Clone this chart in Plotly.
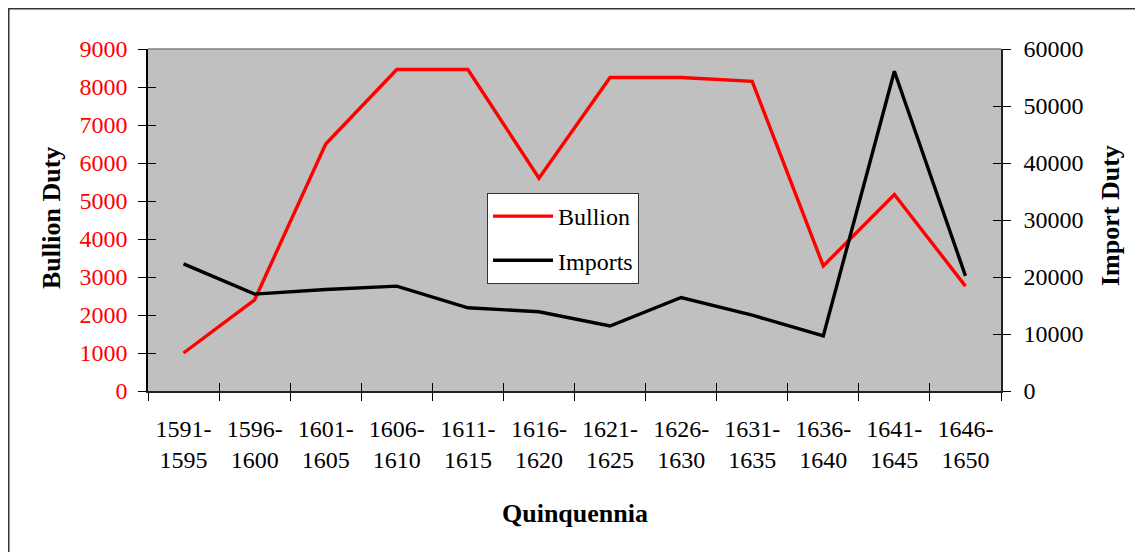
import plotly.graph_objects as go

categories = ["1591-<br>1595", "1596-<br>1600", "1601-<br>1605", "1606-<br>1610",
              "1611-<br>1615", "1616-<br>1620", "1621-<br>1625", "1626-<br>1630",
              "1631-<br>1635", "1636-<br>1640", "1641-<br>1645", "1646-<br>1650"]
bullion = [1000, 2400, 6500, 8460, 8460, 5600, 8250, 8250, 8150, 3290, 5170, 2760]
imports = [22300, 17000, 17800, 18400, 14600, 13900, 11400, 16400, 13300, 9650, 56100, 20200]

FONT = "Liberation Serif"
OFF = 8                      # default page body margin
W, H = 1143 - OFF, 552 - OFF
# target page coords of the plot area: x 148..1001, y 49..391
L, T = 148 - OFF, 49 - OFF
R, B = 1143 - 1001, 552 - 391
pw, ph = W - L - R, H - T - B


def px_x(x):  # page x -> paper
    return (x - OFF - L) / pw


def px_y(y):  # page y -> paper
    return (OFF + T + ph - y) / ph


fig = go.Figure()
fig.add_trace(go.Scatter(x=categories, y=bullion, name="Bullion", mode="lines",
                         line=dict(color="#FF0000", width=3.4), legendgroup="a"))
fig.add_trace(go.Scatter(x=categories, y=imports, name="Imports", mode="lines",
                         line=dict(color="#000000", width=3.4), yaxis="y2", legendgroup="b"))
# invisible helpers for crossing ticks
fig.add_trace(go.Scatter(x=categories, y=[None]*12, xaxis="x2", yaxis="y3",
                         showlegend=False, hoverinfo="skip"))
fig.add_trace(go.Scatter(x=categories, y=[None]*12, xaxis="x2", yaxis="y4",
                         showlegend=False, hoverinfo="skip"))

FS = 24
axfont = dict(family=FONT, size=FS, color="black")
common_x = dict(type="category", categoryorder="array", categoryarray=categories,
                range=[-0.5, 11.5], tickson="boundaries", ticklen=8, tickwidth=1,
                tickcolor="black", showgrid=False, zeroline=False)
fig.update_layout(
    width=W, height=H,
    margin=dict(l=L, r=R, t=T, b=B, pad=0),
    paper_bgcolor="white", plot_bgcolor="#C0C0C0",
    font=dict(family=FONT, size=FS, color="black"),
    xaxis=dict(**common_x, ticks="outside", showline=True, linecolor="#222",
               linewidth=1.5, tickfont=axfont, ticklabelstandoff=15),
    xaxis2=dict(**common_x, ticks="inside", overlaying="x", showline=False,
                showticklabels=False),
    yaxis=dict(range=[0, 9000], dtick=1000, ticks="outside", ticklen=8, tickcolor="black",
               showline=True, linecolor="black", linewidth=1.5, showgrid=False, zeroline=False,
               tickformat="d",
               tickfont=dict(family=FONT, size=FS, color="#FF0000"), ticklabelstandoff=6),
    yaxis2=dict(range=[0, 60000], dtick=10000, ticks="outside", ticklen=8, tickcolor="black",
                overlaying="y", side="right", showline=True, linecolor="#222", linewidth=1.5,
                showgrid=False, zeroline=False, tickformat="d", tickfont=axfont,
                ticklabelstandoff=8),
    yaxis3=dict(range=[0, 9000], dtick=1000, ticks="inside", ticklen=8, tickcolor="black",
                overlaying="y", side="left", showticklabels=False, showgrid=False,
                zeroline=False, showline=False),
    yaxis4=dict(range=[0, 60000], dtick=10000, ticks="inside", ticklen=8, tickcolor="black",
                overlaying="y", side="right", showticklabels=False, showgrid=False,
                zeroline=False, showline=False),
    legend=dict(x=px_x(487), y=px_y(193), xanchor="left", yanchor="top",
                bgcolor="white", bordercolor="#333", borderwidth=1,
                font=dict(family=FONT, size=FS, color="black"),
                tracegroupgap=10, itemwidth=60),
    showlegend=True,
)

tfont = dict(family=FONT, size=26, color="black")
fig.add_annotation(text="<b>Quinquennia</b>", xref="paper", yref="paper",
                   x=0.5, y=px_y(513), xanchor="center", yanchor="middle",
                   showarrow=False, font=tfont)
fig.add_annotation(text="<b>Bullion Duty</b>", xref="paper", yref="paper",
                   x=px_x(52), y=px_y(218), xanchor="center", yanchor="middle",
                   textangle=-90, showarrow=False, font=tfont)
fig.add_annotation(text="<b>Import Duty</b>", xref="paper", yref="paper",
                   x=px_x(1110), y=px_y(216), xanchor="center", yanchor="middle",
                   textangle=-90, showarrow=False, font=tfont)

# plot-area top edge (gray) and outer chart border
fig.add_shape(type="line", xref="paper", yref="paper", x0=0, x1=1, y0=1, y1=1,
              line=dict(color="#808080", width=1.5))
fig.add_shape(type="rect", xref="paper", yref="paper",
              x0=px_x(8.75), x1=px_x(1170), y0=px_y(580), y1=px_y(8.75),
              line=dict(color="#333", width=1.5), layer="below")

fig.write_html("out.html")
